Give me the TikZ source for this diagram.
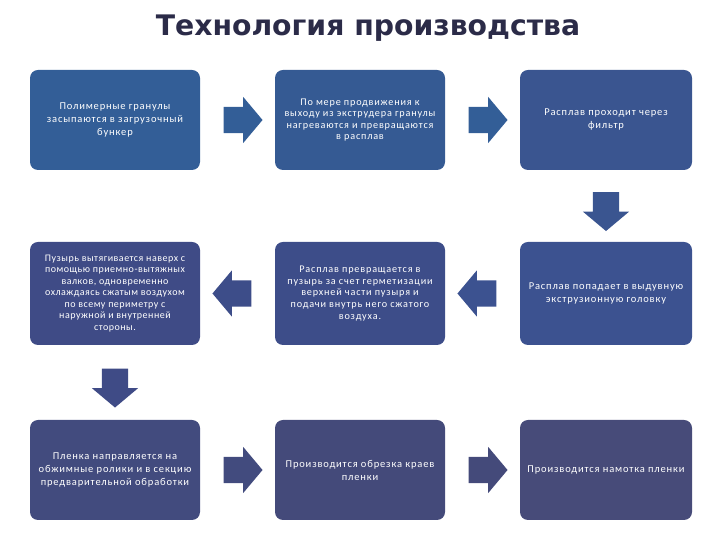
\documentclass[tikz,border=0pt]{standalone}
\usepackage{fontspec}
\setmainfont{Carlito}
\newfontfamily\boxfont{Carlito}[LetterSpace=8.0]
\newfontfamily\tightboxfont{Carlito}[LetterSpace=5.0]
\newfontfamily\titlefont{DejaVu Sans}
\usepackage{xcolor}
\usepackage{tikz}
\usetikzlibrary{shapes.arrows, calc}

\definecolor{rowA}{HTML}{335E97}
\definecolor{rowAb}{HTML}{355A93}
\definecolor{rowAc}{HTML}{3A5590}
\definecolor{rowBc}{HTML}{3C5290}
\definecolor{rowBb}{HTML}{3D4D89}
\definecolor{rowBa}{HTML}{3F4B86}
\definecolor{rowCa}{HTML}{424B7E}
\definecolor{rowCb}{HTML}{444A7A}
\definecolor{rowCc}{HTML}{474B79}
\definecolor{titletext}{HTML}{2B2B48}

\begin{document}
\begin{tikzpicture}[x=1pt, y=1pt,
    box/.style={rounded corners=8pt, minimum width=170pt, minimum height=100pt,
      text=white, align=center, inner sep=2pt,
      font=\boxfont\fontsize{10.5}{13}\selectfont},
    fullbox/.style={box, font=\boxfont\fontsize{10.2}{11.6}\selectfont},
    tightbox/.style={box, font=\tightboxfont\fontsize{10}{11.5}\selectfont},
    blockarrow/.style={single arrow, single arrow head extend=10pt,
      single arrow tip angle=100, minimum height=39pt, minimum width=46pt,
      inner xsep=0pt, inner ysep=13pt}]
  \useasboundingbox (0,0) rectangle (720,540);
  \node[text=titletext, font=\titlefont\bfseries\fontsize{28.3}{32}\selectfont] (title) at (368,512) {Технология производства};

  % first row
  \node[box, fill=rowA] (b1) at (115,420) {Полимерные гранулы\\засыпаются в загрузочный\\бункер};
  \node[fullbox, fill=rowAb] (b2) at (360,420) {По мере продвижения к\\выходу из экструдера гранулы\\нагреваются и превращаются\\в расплав};
  \node[box, fill=rowAc, minimum width=172pt] (b3) at (606,420) {Расплав проходит через\\фильтр};

  % second row
  \node[tightbox, fill=rowBa, minimum height=103pt] (b4) at (115,246.5) {Пузырь вытягивается наверх с\\помощью приемно-вытяжных\\валков, одновременно\\охлаждаясь сжатым воздухом\\по всему периметру с\\наружной и внутренней\\стороны.};
  \node[fullbox, fill=rowBb, minimum height=103pt] (b5) at (360,246.5) {Расплав превращается в\\пузырь за счет герметизации\\верхней части пузыря и\\подачи внутрь него сжатого\\воздуха.};
  \node[box, fill=rowBc, minimum width=172pt, minimum height=103pt] (b6) at (606,246.5) {Расплав попадает в выдувную\\экструзионную головку};

  % third row
  \node[box, fill=rowCa] (b7) at (115,70) {Пленка направляется на\\обжимные ролики и в секцию\\предварительной обработки};
  \node[box, fill=rowCb] (b8) at (360,70) {Производится обрезка краев\\пленки};
  \node[box, fill=rowCc, minimum width=172pt] (b9) at (606,70) {Производится намотка пленки};

  % arrows between the steps
  \node[blockarrow, fill=rowA] (a12) at ($(b1.east)!0.5!(b2.west)$) {};
  \node[blockarrow, fill=rowA] (a23) at ($(b2.east)!0.5!(b3.west)$) {};
  \node[blockarrow, fill=rowAc, rotate=270] (a36) at ($(b3.south)!0.5!(b6.north)$) {};
  \node[blockarrow, fill=rowBc, rotate=180] (a65) at ($(b6.west)!0.5!(b5.east)$) {};
  \node[blockarrow, fill=rowBb, rotate=180] (a54) at ($(b5.west)!0.5!(b4.east)$) {};
  \node[blockarrow, fill=rowBa, rotate=270] (a47) at ($(b4.south)!0.5!(b7.north)$) {};
  \node[blockarrow, fill=rowCa] (a78) at ($(b7.east)!0.5!(b8.west)$) {};
  \node[blockarrow, fill=rowCb] (a89) at ($(b8.east)!0.5!(b9.west)$) {};
\end{tikzpicture}
\end{document}
